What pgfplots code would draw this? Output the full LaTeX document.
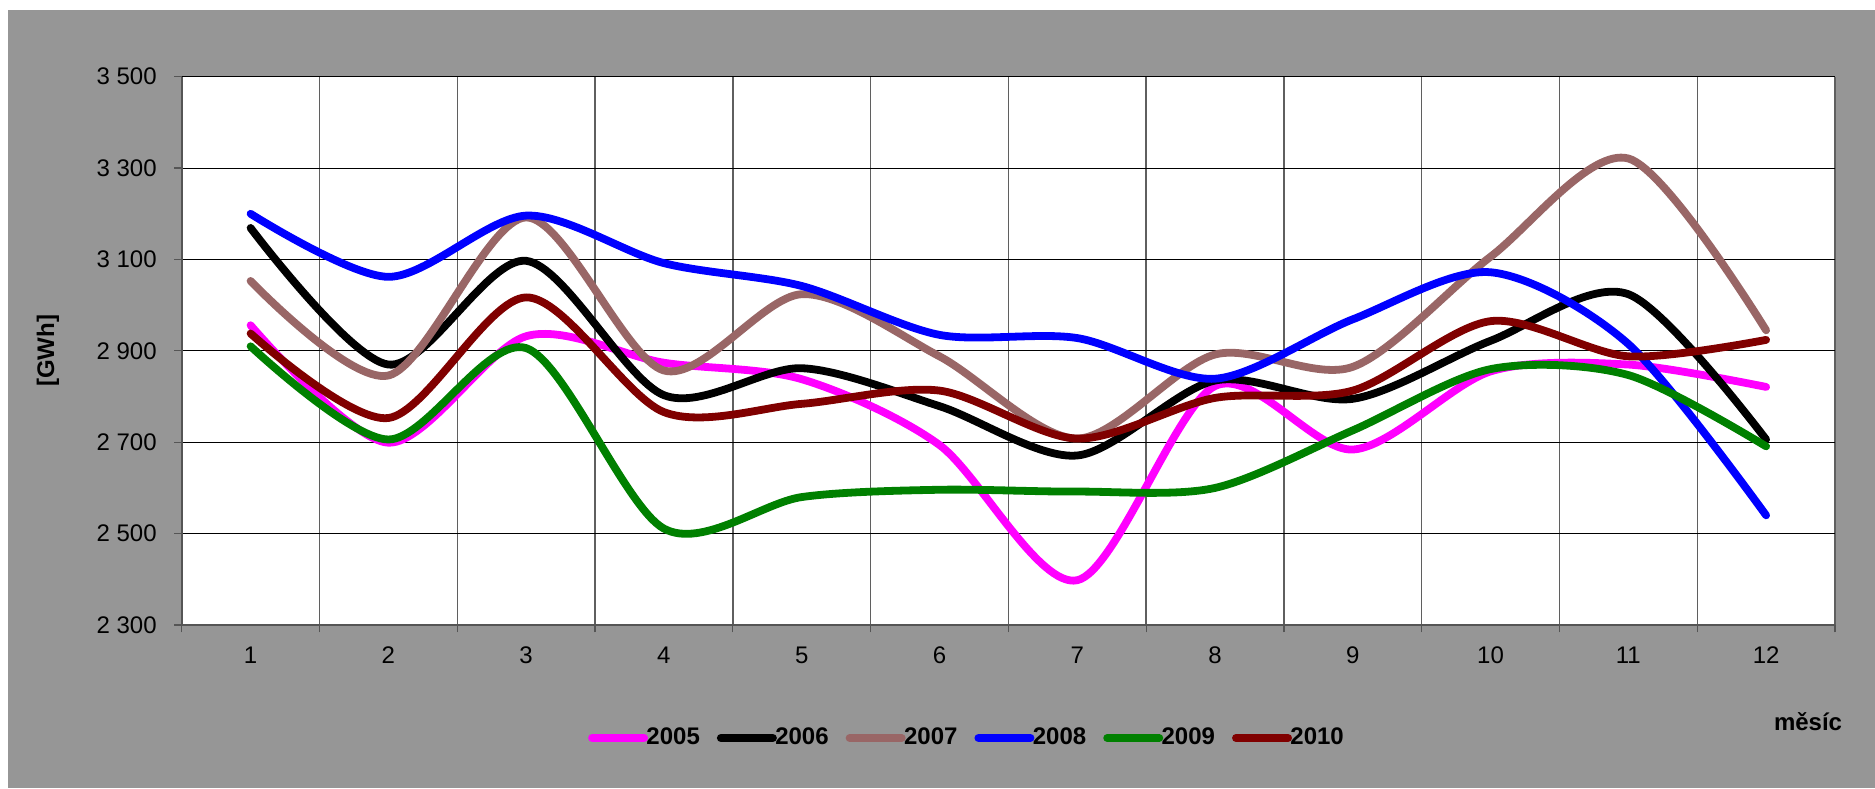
\documentclass[border=0pt]{standalone}
\usepackage{pgfplots}
\pgfplotsset{compat=1.18}
\usepackage{fontspec}
\setmainfont{Liberation Sans}
\definecolor{bggray}{RGB}{150,150,150}
\definecolor{c2005}{RGB}{255,0,255}
\definecolor{c2006}{RGB}{0,0,0}
\definecolor{c2007}{RGB}{153,102,102}
\definecolor{c2008}{RGB}{0,0,255}
\definecolor{c2009}{RGB}{0,128,0}
\definecolor{c2010}{RGB}{128,0,0}
\definecolor{axgray}{RGB}{85,85,85}
\definecolor{vgrid}{RGB}{95,95,95}
\pgfplotstableread{
m y2005 y2006 y2007 y2008 y2009 y2010
1  2956 3169 3053 3200 2910 2938
2  2699 2870 2846 3062 2706 2753
3  2932 3097 3192 3196 2906 3017
4  2874 2803 2857 3092 2511 2766
5  2838 2862 3024 3042 2580 2784
6  2694 2779 2888 2935 2596 2813
7  2398 2671 2708 2928 2592 2708
8  2823 2835 2892 2839 2600 2797
9  2684 2795 2865 2969 2726 2813
10 2855 2922 3106 3072 2860 2965
11 2870 3024 3321 2915 2847 2888
12 2821 2706 2945 2540 2691 2924
}\datatable
\begin{document}
\begin{tikzpicture}
\useasboundingbox (0,0) rectangle (937.5pt,394pt);
\fill[white] (0,0) rectangle (937.5pt,394pt);
\fill[bggray] (4pt,0) rectangle (937.5pt,389pt);
\begin{axis}[
  at={(90.85pt,81.5pt)}, anchor=south west,
  scale only axis, width=826.65pt, height=274.15pt,
  xmin=0.5, xmax=12.5, ymin=2300, ymax=3500,
  xtick={0.5,1.5,...,12.5},
  xticklabels={},
  extra x ticks={1,2,3,4,5,6,7,8,9,10,11,12},
  extra x tick labels={1,2,3,4,5,6,7,8,9,10,11,12},
  extra x tick style={grid=none, tick style={draw=none}},
  ytick={2300,2500,...,3500},
  axis background/.style={fill=white},
  axis x line*=bottom, axis y line*=left,
  axis line style={axgray, line width=0.8pt},
  xmajorgrids, ymajorgrids,
  x grid style={vgrid, line width=0.7pt},
  y grid style={black, line width=0.5pt},
  tick align=outside,
  major tick length=3.7pt,
  tick style={axgray, line width=0.6pt},
  /pgf/number format/1000 sep={\ },
  /pgf/number format/assume math mode=true,
  ticklabel style={font=\fontsize{12}{14}\selectfont, inner sep=0pt},
  yticklabel style={anchor=east, xshift=-8.6pt},
  xticklabel style={anchor=north, yshift=-7.2pt},
  ylabel={[GWh]},
  ylabel style={at={(axis description cs:-0.0809,0.5)}, anchor=center, font=\bfseries\fontsize{12}{14}\selectfont},
  xlabel={měsíc},
  xlabel style={at={(axis description cs:0.9837,-0.1755)}, anchor=center, font=\bfseries\fontsize{12}{14}\selectfont},
  legend columns=6,
  legend style={at={(axis description cs:0.2458,-0.2061)}, anchor=west, draw=none, fill=none,
    inner sep=0pt, outer sep=0pt, font=\bfseries\fontsize{12}{14}\selectfont,
    nodes={inner sep=0.5pt},
    /tikz/every odd column/.append style={column sep=-1.3pt},
    /tikz/every even column/.append style={column sep=8.0pt}},
  legend image code/.code={\draw[#1, line width=4pt, line cap=round] (0pt,0pt) -- (26pt,0pt);},
  every axis plot/.append style={line width=3.9pt, line cap=round, line join=round, smooth, tension=0.5},
]
\addplot[c2005] table[x=m, y=y2005] {\datatable};
\addplot[c2006] table[x=m, y=y2006] {\datatable};
\addplot[c2007] table[x=m, y=y2007] {\datatable};
\addplot[c2008] table[x=m, y=y2008] {\datatable};
\addplot[c2009] table[x=m, y=y2009] {\datatable};
\addplot[c2010] table[x=m, y=y2010] {\datatable};
\legend{2005,2006,2007,2008,2009,2010}
\end{axis}
\end{tikzpicture}
\end{document}
